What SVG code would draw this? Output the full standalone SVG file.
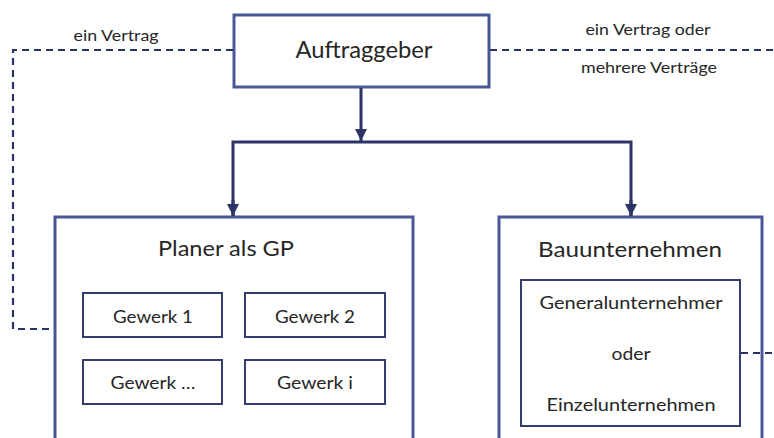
<svg xmlns="http://www.w3.org/2000/svg" width="774" height="438" viewBox="0 0 774 438">
<defs>
<style>
.box{fill:#fff;stroke:#4a5795;stroke-width:3}
.inner{fill:#fff;stroke:#353c70;stroke-width:2}
.con{fill:none;stroke:#2c3366;stroke-width:3}
.dash{fill:none;stroke:#2c3366;stroke-width:2.2;stroke-dasharray:7 5}
text{font-family:Lato,"Open Sans","Liberation Sans",sans-serif;fill:#262626;text-anchor:middle}
.t24{font-size:24px}
.t22{font-size:22px}
.t18{font-size:18px}
.t17{font-size:17px}
.t16{font-size:16px}
</style>
<marker id="ad" markerUnits="userSpaceOnUse" markerWidth="14" markerHeight="14" viewBox="0 0 14 14" refX="7" refY="13" orient="0">
<path d="M1,1 L13,1 L7,13 Z" fill="#2c3366"/>
</marker>
</defs>
<g id="label-left">
<text class="t16" x="116" y="41" textLength="85" lengthAdjust="spacingAndGlyphs">ein Vertrag</text>
</g>
<g id="label-right">
<text class="t16" x="648" y="35" textLength="125" lengthAdjust="spacingAndGlyphs">ein Vertrag oder</text>
<text class="t16" x="649" y="73" textLength="136" lengthAdjust="spacingAndGlyphs">mehrere Verträge</text>
</g>
<g id="auftraggeber">
<rect class="box" x="234" y="15" width="255" height="72"/>
<text class="t24" x="364" y="58" textLength="137" lengthAdjust="spacingAndGlyphs">Auftraggeber</text>
</g>
<g id="planer">
<rect class="box" x="55" y="217" width="358" height="240"/>
<text class="t22" x="226" y="256" textLength="136" lengthAdjust="spacingAndGlyphs">Planer als GP</text>
</g>
<g id="gewerk1">
<rect class="inner" x="83" y="293" width="139" height="44"/>
<text class="t18" x="153" y="323" textLength="80" lengthAdjust="spacingAndGlyphs">Gewerk 1</text>
</g>
<g id="gewerk2">
<rect class="inner" x="245" y="293" width="140" height="44"/>
<text class="t18" x="315" y="323" textLength="80" lengthAdjust="spacingAndGlyphs">Gewerk 2</text>
</g>
<g id="gewerk3">
<rect class="inner" x="83" y="360" width="139" height="44"/>
<text class="t18" x="153" y="389" textLength="85" lengthAdjust="spacingAndGlyphs">Gewerk …</text>
</g>
<g id="gewerki">
<rect class="inner" x="245" y="360" width="140" height="44"/>
<text class="t18" x="315" y="389" textLength="76" lengthAdjust="spacingAndGlyphs">Gewerk i</text>
</g>
<g id="bauunternehmen">
<rect class="box" x="499" y="217" width="263" height="240"/>
<text class="t22" x="630" y="257" textLength="184" lengthAdjust="spacingAndGlyphs">Bauunternehmen</text>
</g>
<g id="gu">
<rect class="inner" x="521" y="280" width="219" height="146"/>
<text class="t17" x="631" y="309" textLength="183" lengthAdjust="spacingAndGlyphs">Generalunternehmer</text>
<text class="t17" x="631" y="360" textLength="39" lengthAdjust="spacingAndGlyphs">oder</text>
<text class="t17" x="631" y="411" textLength="169" lengthAdjust="spacingAndGlyphs">Einzelunternehmen</text>
</g>
<g id="connectors">
<path class="dash" d="M233,50 H13 V329 H54"/>
<path class="dash" d="M490,50 H774"/>
<path class="dash" d="M741,353 H774"/>
<path class="con" d="M361,88 V141" marker-end="url(#ad)"/>
<path class="con" d="M233,216 V142 H631 V216"/>
<path class="con" d="M233,200 V216" marker-end="url(#ad)"/>
<path class="con" d="M631,200 V216" marker-end="url(#ad)"/>
</g>
</svg>
